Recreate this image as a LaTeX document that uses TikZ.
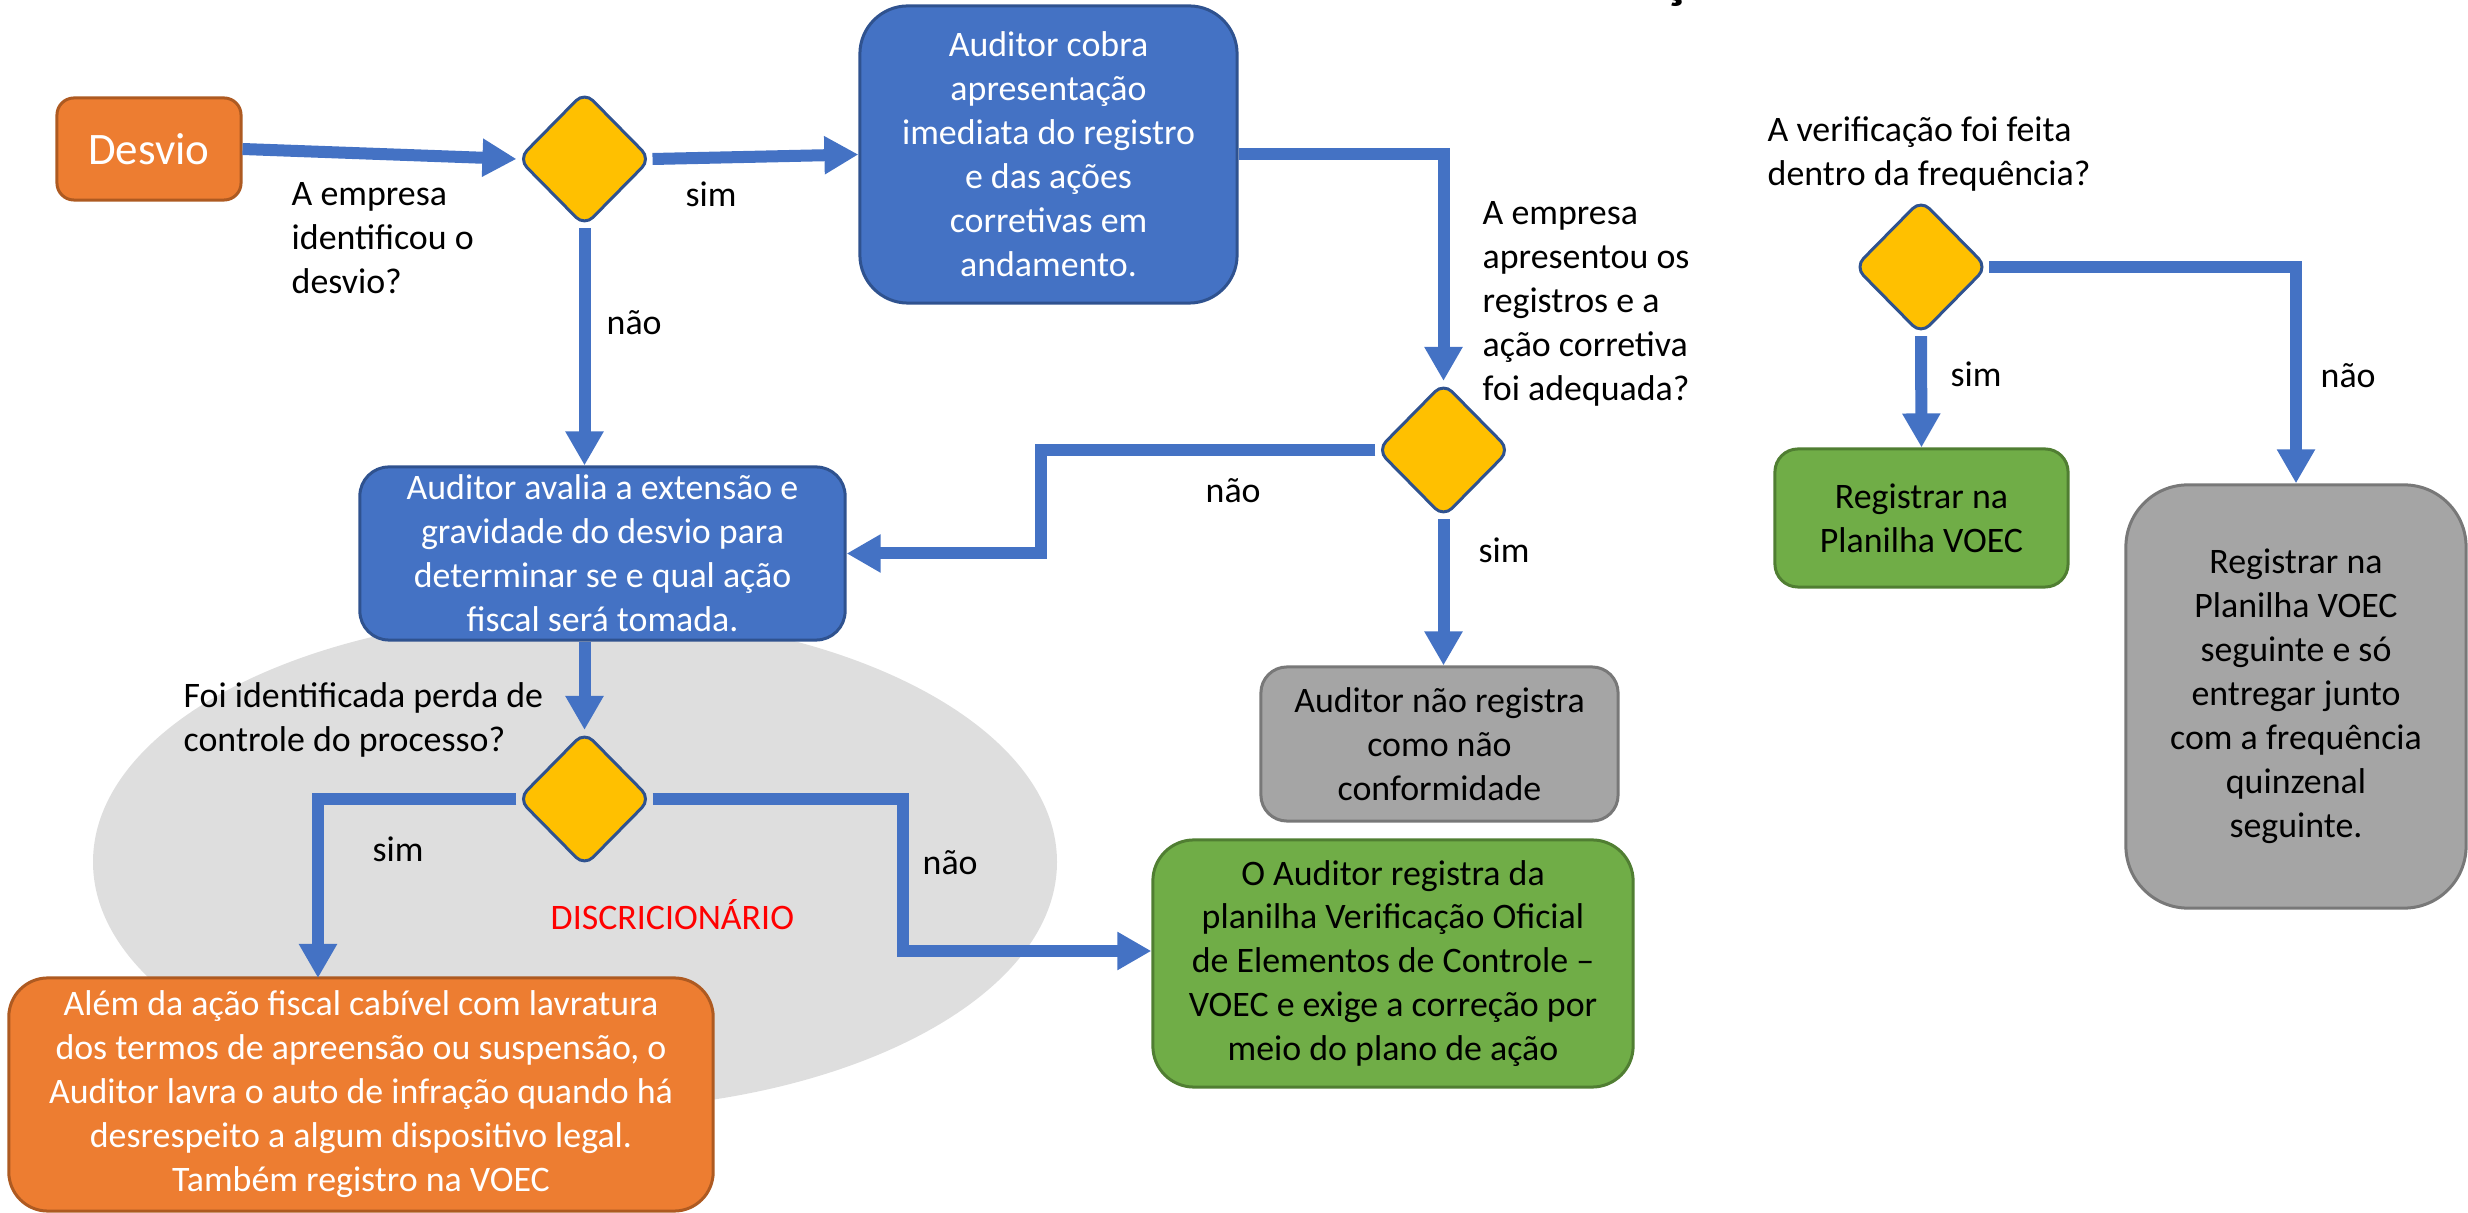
\documentclass[tikz,border=0pt]{standalone}
\usepackage{fontspec}
\setmainfont{Carlito}
\usepackage{tikz}
\usetikzlibrary{positioning, calc, shapes.geometric, arrows.meta}

\begin{document}
\begin{tikzpicture}[x=0.01cm, y=-0.01cm, font=\fontsize{10.2}{12.5}\selectfont, align=center, >={Triangle[width=3.6mm, length=3.4mm]},
    box/.style={draw, rounded corners=#1, line width=0.3mm, inner sep=0pt},
    bluebox/.style={box=#1, fill=boxblue, draw=boxline, text=white},
    orangebox/.style={box=#1, fill=boxorange, draw=orangeline, text=white},
    greenbox/.style={box=#1, fill=boxgreen, draw=greenline, text=black},
    graybox/.style={box=#1, fill=boxgray, draw=grayline, text=black},
    decision/.style={diamond, draw=boxline, fill=decyellow, line width=0.3mm, minimum width=1.33cm, minimum height=1.35cm, inner sep=0pt, rounded corners=1.2mm},
    flow/.style={->, draw=arrowblue, line width=1.2mm},
    lbl/.style={inner sep=0pt, anchor=base west},
    question/.style={inner sep=0pt, anchor=north west, align=left}]
        % Define colors
        \definecolor{boxblue}{HTML}{4472C4}
        \definecolor{boxline}{HTML}{2F528F}
        \definecolor{arrowblue}{HTML}{4472C4}
        \definecolor{boxorange}{HTML}{ED7D31}
        \definecolor{orangeline}{HTML}{AE5A21}
        \definecolor{boxgreen}{HTML}{70AD47}
        \definecolor{greenline}{HTML}{507E32}
        \definecolor{boxgray}{HTML}{A5A5A5}
        \definecolor{grayline}{HTML}{787878}
        \definecolor{decyellow}{HTML}{FFC000}
        \definecolor{zonegray}{HTML}{DEDEDE}

        \useasboundingbox (0,0) rectangle (2468,1213);

        % Title, cut off at the top edge
        \begin{scope}
            \clip (0,0) rectangle (2468,1213);
            \node[inner sep=0pt, anchor=base, font=\fontsize{17}{20}\selectfont\bfseries] (title) at (1675,-3) {ç};
        \end{scope}

        % Discretionary zone
        \fill[zonegray] (575,862) ellipse [x radius=482, y radius=248];

        % Nodes
        \node[orangebox=1.7mm, minimum width=1.84cm, minimum height=1.02cm, font=\fontsize{12.8}{15}\selectfont] (desvio) at (149,149) {Desvio};
        \node[decision] (dec1) at (584.5,159) {};
        \node[bluebox=4.8mm, minimum width=3.77cm, minimum height=2.97cm] (cobra) at (1048.5,154.5) {Auditor cobra\\apresentação\\imediata do registro\\e das ações\\corretivas em\\andamento.};
        \node[bluebox=2.9mm, minimum width=4.85cm, minimum height=1.73cm] (avalia) at (602.5,553.5) {Auditor avalia a extensão e\\gravidade do desvio para\\determinar se e qual ação\\fiscal será tomada.};
        \node[decision] (dec3) at (1443.5,450) {};
        \node[graybox=2.6mm, minimum width=3.57cm, minimum height=1.54cm] (naoreg) at (1439.5,744) {Auditor não registra\\como não\\conformidade};
        \node[decision] (dec2) at (584.5,799) {};
        \node[orangebox=3.9mm, minimum width=7.04cm, minimum height=2.33cm] (alem) at (361,1094.5) {Além da ação fiscal cabível com lavratura\\dos termos de apreensão ou suspensão, o\\Auditor lavra o auto de infração quando há\\desrespeito a algum dispositivo legal.\\Também registro na VOEC};
        \node[greenbox=4.1mm, minimum width=4.8cm, minimum height=2.47cm] (voec) at (1393,963.5) {O Auditor registra da\\planilha Verificação Oficial\\de Elementos de Controle –\\VOEC e exige a correção por\\meio do plano de ação};
        \node[decision] (dec4) at (1921,267) {};
        \node[greenbox=2.3mm, minimum width=2.93cm, minimum height=1.38cm] (planilha) at (1921.5,518) {Registrar na\\Planilha VOEC};
        \node[graybox=6.2mm, minimum width=3.4cm, minimum height=4.23cm] (seguinte) at (2296,696.5) {Registrar na\\Planilha VOEC\\seguinte e só\\entregar junto\\com a frequência\\quinzenal\\seguinte.};

        % Questions
        \node[question] (q1) at (291,182) {A empresa\\identificou o\\desvio?};
        \node[question] (q2) at (1482,201) {A empresa\\apresentou os\\registros e a\\ação corretiva\\foi adequada?};
        \node[question] (q3) at (183,682) {Foi identificada perda de\\controle do processo?};
        \node[question] (q4) at (1767,116) {A verificação foi feita\\dentro da frequência?};

        % Branch labels
        \node[lbl] (sim1) at (685,207) {sim};
        \node[lbl] (nao1) at (606,335) {não};
        \node[lbl] (nao2) at (1205,503) {não};
        \node[lbl] (sim2) at (1478,563) {sim};
        \node[lbl] (sim3) at (372,862) {sim};
        \node[lbl] (nao3) at (922,875) {não};
        \node[lbl, text=red] (discr) at (550,930) {DISCRICIONÁRIO};
        \node[lbl] (sim4) at (1950,387) {sim};
        \node[lbl] (nao4) at (2320,388) {não};

        \coordinate (simdrop) at (318,978);
        \coordinate (naojog) at (903,951);

        % Edges
        \draw[flow] (desvio.east) -- (dec1.west);
        \draw[flow] (dec1.east) -- (cobra.west);
        \draw[flow] (dec1.south) -- (dec1.south |- avalia.north);
        \draw[flow] (cobra.east) -| (dec3.north);
        \draw[flow] (dec3.west) -- ++(-334,0) |- (avalia.east);
        \draw[flow] (dec3.south) -- (dec3.south |- naoreg.north);
        \draw[flow] (dec2.north |- avalia.south) -- (dec2.north);
        \draw[flow] (dec2.west) -| (simdrop);
        \draw[flow] (dec2.east) -| (naojog) -- (naojog -| voec.west);
        \draw[flow] (dec4.east) -| (seguinte.north);
        \draw[flow] (dec4.south) -- (planilha.north);
\end{tikzpicture}
\end{document}
